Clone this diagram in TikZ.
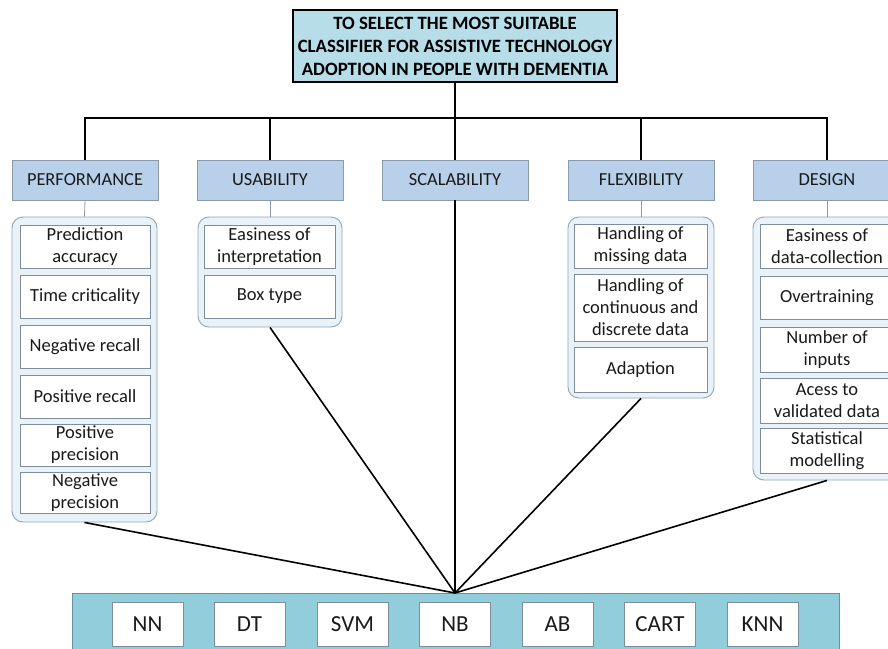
\documentclass[tikz,border=0pt]{standalone}
\usepackage{fontspec}
\setmainfont{Carlito}
\usetikzlibrary{positioning}
\definecolor{titlefill}{HTML}{B7DDE8}
\definecolor{headfill}{HTML}{B8D0EA}
\definecolor{headline}{HTML}{8A9AAA}
\definecolor{groupfill}{HTML}{E9F2F8}
\definecolor{groupline}{HTML}{8EA6B8}
\definecolor{itemline}{HTML}{7F8C99}
\definecolor{barfill}{HTML}{92CDDC}
\definecolor{barline}{HTML}{6A8E9A}
\definecolor{txt}{HTML}{1A1A1A}
\tikzset{
  titlebox/.style={draw=black, line width=1.4pt, fill=titlefill, align=center, inner sep=0pt,
    minimum width=324pt, minimum height=72pt, font=\bfseries\fontsize{18.8}{23}\selectfont},
  headbox/.style={draw=headline, line width=0.8pt, fill=headfill, inner sep=0pt,
    minimum width=146pt, minimum height=40pt, text=txt, font=\fontsize{18.4}{22}\selectfont},
  groupbox/.style={draw=groupline, line width=0.9pt, fill=groupfill, rounded corners=11pt, inner sep=0pt},
  itembox/.style={draw=itemline, line width=0.8pt, fill=white, align=center, inner sep=0pt,
    text=txt, font=\fontsize{18.5}{22}\selectfont},
  algbox/.style={draw=itemline, line width=0.8pt, fill=white, inner sep=0pt,
    minimum width=71pt, minimum height=44pt, text=txt, font=\fontsize{23}{26}\selectfont},
  barbox/.style={draw=barline, line width=0.8pt, fill=barfill, inner sep=0pt},
  bus/.style={draw=black, line width=2pt},
  link/.style={draw=black, line width=1.6pt},
  thin/.style={draw=headline, line width=0.8pt}
}
\begin{document}
\begin{tikzpicture}[x=1pt, y=-1pt]
\useasboundingbox (0,0) rectangle (888,648);
\clip (0,0) rectangle (888,648);
\fill[white] (0,0) rectangle (888,648);

% title
\node[titlebox] (title) at (455,46) {TO SELECT THE MOST SUITABLE\\CLASSIFIER FOR ASSISTIVE TECHNOLOGY\\ADOPTION IN PEOPLE WITH DEMENTIA};

% headers
\node[headbox] (perf) at (85,180) {PERFORMANCE};
\node[headbox] (usab) at (270,180) {USABILITY};
\node[headbox] (scal) at (455,180) {SCALABILITY};
\node[headbox] (flex) at (641,180) {FLEXIBILITY};
\node[headbox, minimum width=147pt] (desi) at (827,180) {DESIGN};

% bus
\coordinate (busL) at (85,118);
\coordinate (busR) at (827,118);
\coordinate (busM) at (455,118);
\draw[bus] (title.south) -- (busM);
\draw[bus] (perf.north) -- (busL) -- (busR) -- (desi.north);
\draw[bus] (usab.north) -- (usab.north |- busM);
\draw[bus] (scal.north) -- (busM);
\draw[bus] (flex.north) -- (flex.north |- busM);

% groups
\node[groupbox, minimum width=145pt, minimum height=305pt] (gperf) at (84.5,369.5) {};
\node[groupbox, minimum width=144pt, minimum height=110pt] (gusab) at (270,272) {};
\node[groupbox, minimum width=146pt, minimum height=181pt] (gflex) at (641,307.5) {};
\node[groupbox, minimum width=148pt, minimum height=263pt] (gdesi) at (827,348.5) {};

\draw[thin] (perf.south) -- (gperf.north);
\draw[thin] (usab.south) -- (gusab.north);
\draw[thin] (flex.south) -- (gflex.north);
\draw[thin] (desi.south) -- (gdesi.north);

% performance items
\begin{scope}[every node/.style={itembox, minimum width=130pt}]
\node[minimum height=43pt] (p1) at (85,246.5) {Prediction\\accuracy};
\node[minimum height=43pt] (p2) at (85,296.5) {Time criticality};
\node[minimum height=43pt] (p3) at (85,346.5) {Negative recall};
\node[minimum height=43pt] (p4) at (85,396.5) {Positive recall};
\node[minimum height=42pt] (p5) at (85,445) {Positive\\precision};
\node[minimum height=41pt] (p6) at (85,492.5) {Negative\\precision};
\end{scope}

% usability items
\begin{scope}[every node/.style={itembox, minimum width=131pt}]
\node[minimum height=43pt] (u1) at (269.5,246.5) {Easiness of\\interpretation};
\node[minimum height=43pt] (u2) at (269.5,296.5) {Box type};
\end{scope}

% flexibility items
\begin{scope}[every node/.style={itembox, minimum width=133pt}]
\node[minimum height=44pt] (f1) at (640.5,246) {Handling of\\missing data};
\node[minimum height=67pt] (f2) at (640.5,307.5) {Handling of\\continuous and\\discrete data};
\node[minimum height=45pt] (f3) at (640.5,369.5) {Adaption};
\end{scope}

% design items
\begin{scope}[every node/.style={itembox, minimum width=134pt}]
\node[minimum height=44pt] (d1) at (827,246) {Easiness of\\data-collection};
\node[minimum height=43pt] (d2) at (827,297.5) {Overtraining};
\node[minimum height=45pt] (d3) at (827,349.5) {Number of\\inputs};
\node[minimum height=45pt] (d4) at (827,400.5) {Acess to\\validated data};
\node[minimum height=45pt] (d5) at (827,450.5) {Statistical\\modelling};
\end{scope}

% bottom bar
\node[barbox, minimum width=767pt, minimum height=70pt] (bar) at (455.5,628) {};
\node[algbox] (nn) at (147.5,624) {NN};
\node[algbox] (dt) at (249.5,624) {DT};
\node[algbox] (svm) at (352.5,624) {SVM};
\node[algbox] (nb) at (455,624) {NB};
\node[algbox] (ab) at (557.5,624) {AB};
\node[algbox] (cart) at (660,624) {CART};
\node[algbox] (knn) at (762.5,624) {KNN};

% converging links
\coordinate (conv) at (455,593);
\draw[link] (gperf.south) -- (conv);
\draw[link] (gusab.south) -- (conv);
\draw[link] (scal.south) -- (conv);
\draw[link] (gflex.south) -- (conv);
\draw[link] (gdesi.south) -- (conv);
\end{tikzpicture}
\end{document}
